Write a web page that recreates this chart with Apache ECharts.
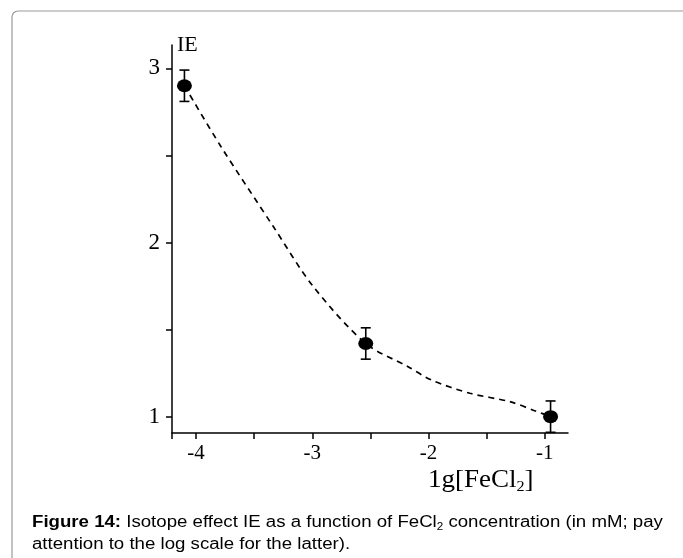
<!DOCTYPE html>
<html>
<head>
<meta charset="utf-8">
<script src="https://cdn.jsdelivr.net/npm/echarts@6/dist/echarts.min.js"></script>
<style>
  html, body { margin: 0; padding: 0; background: #fff; }
  #chart { width: 683px; height: 558px; }
</style>
</head>
<body>
<div id="chart"></div>
<script>
// measured points: lg[FeCl2] vs isotope effect IE
var lgConc = [-4.10, -2.54, -0.95];
var ieValues = [2.90, 1.42, 1.00];
var ieErrors = [0.09, 0.09, 0.09];

// dashed guide curve
var curveX = [-4.10, -3.785, -3.334, -2.995, -2.54, -2.176, -1.974, -1.644, -1.30, -1.071, -0.95];
var curveY = [2.90, 2.55, 2.09, 1.75, 1.42, 1.287, 1.21, 1.134, 1.086, 1.03, 1.00];

// ticks
var xTicks = [-4, -3.5, -3, -2.5, -2, -1.5, -1];
var xLabels = [-4, -3, -2, -1];
var yTicks = [1, 1.5, 2, 2.5, 3];
var yLabels = [1, 2, 3];

var X_MIN = -4.207, X_MAX = -0.80;
var Y_MIN = 0.906, Y_MAX = 3.134;

var serif = '"Liberation Serif", "DejaVu Serif", serif';
var sans = '"Liberation Sans", Arial, sans-serif';

var myChart = echarts.init(document.getElementById('chart'));

var pointData = lgConc.map(function (x, i) { return [x, ieValues[i]]; });
var errData = lgConc.map(function (x, i) {
    return [x, ieValues[i] - ieErrors[i], ieValues[i] + ieErrors[i]];
});
var curveData = curveX.map(function (x, i) { return [x, curveY[i]]; });

var option = {
    backgroundColor: '#fff',
    animation: false,
    grid: {
        left: 172,
        right: 115,
        top: 45,
        bottom: 125
    },
    xAxis: {
        type: 'value',
        min: X_MIN,
        max: X_MAX,
        axisLine: { onZero: false, lineStyle: { color: '#000', width: 1.5 } },
        axisTick: {
            show: true,
            length: 6,
            customValues: [X_MIN].concat(xTicks),
            lineStyle: { color: '#000', width: 1.5 }
        },
        axisLabel: {
            customValues: xLabels,
            margin: 10,
            color: '#000',
            fontFamily: serif,
            fontSize: 21
        },
        splitLine: { show: false }
    },
    yAxis: {
        type: 'value',
        min: Y_MIN,
        max: Y_MAX,
        axisLine: { onZero: false, lineStyle: { color: '#000', width: 1.5 } },
        axisTick: {
            show: true,
            length: 6,
            customValues: yTicks,
            lineStyle: { color: '#000', width: 1.5 }
        },
        axisLabel: {
            customValues: yLabels,
            margin: 12,
            color: '#000',
            fontFamily: serif,
            fontSize: 23
        },
        splitLine: { show: false }
    },
    graphic: [
        {   // figure frame
            type: 'rect',
            shape: { x: 12, y: 11, width: 700, height: 600, r: 6 },
            style: { fill: 'none', stroke: '#9a9a9a', lineWidth: 1.2 },
            silent: true, z: -1
        },
        {
            type: 'text',
            left: 177, top: 34,
            style: { text: 'IE', font: '22px ' + serif, fill: '#000' }
        },
        {
            type: 'text',
            x: 428, y: 466,
            scaleX: 1.08,
            style: {
                text: '1g[FeCl{sub|2}]',
                font: '25px ' + serif,
                fill: '#000',
                verticalAlign: 'top',
                rich: { sub: { fontSize: 15, fontFamily: serif, padding: [14, 0, 0, 0] } }
            }
        },
        {
            type: 'text',
            x: 32, y: 512,
            scaleX: 1.165,
            style: {
                text: '{b|Figure 14:} Isotope effect IE as a function of FeCl{sub|2} concentration (in mM; pay\nattention to the log scale for the latter).',
                font: '16px ' + sans,
                fill: '#000',
                lineHeight: 22,
                verticalAlign: 'top',
                rich: {
                    b: { fontWeight: 'bold', fontSize: 16, fontFamily: sans, lineHeight: 22 },
                    sub: { fontSize: 10, fontFamily: sans, padding: [8, 0, 0, 0], lineHeight: 22 }
                }
            }
        }
    ],
    series: [
        {
            name: 'fit',
            type: 'line',
            data: curveData,
            smooth: 0.3,
            showSymbol: false,
            symbol: 'none',
            lineStyle: { color: '#000', width: 1.7, type: [6, 5] },
            z: 1
        },
        {
            name: 'error',
            type: 'custom',
            data: errData,
            renderItem: function (params, api) {
                var x = api.value(0);
                var lo = api.coord([x, api.value(1)]);
                var hi = api.coord([x, api.value(2)]);
                var cap = 5;
                var st = { stroke: '#000', lineWidth: 1.6 };
                return {
                    type: 'group',
                    children: [
                        { type: 'line', shape: { x1: lo[0], y1: lo[1], x2: hi[0], y2: hi[1] }, style: st },
                        { type: 'line', shape: { x1: hi[0] - cap, y1: hi[1], x2: hi[0] + cap, y2: hi[1] }, style: st },
                        { type: 'line', shape: { x1: lo[0] - cap, y1: lo[1], x2: lo[0] + cap, y2: lo[1] }, style: st }
                    ]
                };
            },
            z: 2
        },
        {
            name: 'IE',
            type: 'scatter',
            data: pointData,
            symbol: 'circle',
            symbolSize: [15, 13],
            itemStyle: { color: '#000', opacity: 1 },
            z: 3
        }
    ]
};
myChart.setOption(option);
</script>
</body>
</html>
